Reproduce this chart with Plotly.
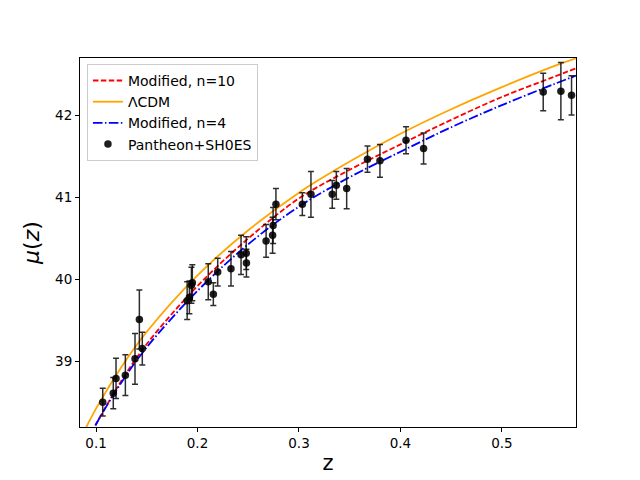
import plotly.graph_objects as go

# ---------------- Data ----------------
z_model = [0.085, 0.1, 0.125, 0.15, 0.2, 0.25, 0.3, 0.35, 0.4, 0.45, 0.5, 0.55, 0.575]
mu_lcdm = [38.06, 38.42, 38.93, 39.36, 40.05, 40.60, 41.06, 41.44, 41.78, 42.08, 42.35, 42.60, 42.71]
mu_n10 = [37.87, 38.23, 38.76, 39.21, 39.92, 40.50, 40.99, 41.34, 41.65, 41.95, 42.23, 42.47, 42.59]
mu_n4 = [37.87, 38.23, 38.74, 39.17, 39.86, 40.43, 40.89, 41.25, 41.56, 41.86, 42.13, 42.38, 42.50]

z_obs = [0.1066, 0.1170, 0.1197, 0.1289, 0.1384, 0.1427, 0.1456, 0.1898, 0.1920, 0.1940,
         0.1949, 0.2106, 0.2156, 0.2199, 0.2330, 0.2429, 0.2480, 0.2482, 0.2676, 0.2740,
         0.2745, 0.2773, 0.3033, 0.3118, 0.3328, 0.3368, 0.3470, 0.3675, 0.3798, 0.4055,
         0.4228, 0.5407, 0.5581, 0.5686]
mu_obs = [38.50, 38.61, 38.79, 38.83, 39.03, 39.51, 39.155, 39.74, 39.78, 39.93,
          39.96, 39.97, 39.82, 40.09, 40.13, 40.30, 40.32, 40.20, 40.47, 40.54,
          40.66, 40.92, 40.92, 41.04, 41.04, 41.15, 41.11, 41.47, 41.45, 41.70,
          41.60, 42.29, 42.30, 42.25]
mu_err = [0.17, 0.19, 0.245, 0.25, 0.31, 0.36, 0.2, 0.23, 0.2, 0.22,
          0.22, 0.22, 0.14, 0.17, 0.21, 0.24, 0.2, 0.17, 0.2, 0.22,
          0.22, 0.19, 0.14, 0.28, 0.17, 0.17, 0.245, 0.16, 0.2, 0.165,
          0.19, 0.23, 0.35, 0.24]

x_ticks = [0.1, 0.2, 0.3, 0.4, 0.5]
y_ticks = [39, 40, 41, 42]

fig = go.Figure()

# ---------------- Model curves ----------------
fig.add_trace(go.Scatter(x=z_model, y=mu_n10, mode="lines", name="Modified, n=10",
                         line=dict(color="red", width=1.8, dash="5.5px,2.4px", shape="spline")))
fig.add_trace(go.Scatter(x=z_model, y=mu_lcdm, mode="lines", name="ΛCDM",
                         line=dict(color="orange", width=1.8, shape="spline")))
fig.add_trace(go.Scatter(x=z_model, y=mu_n4, mode="lines", name="Modified, n=4",
                         line=dict(color="blue", width=1.8, dash="9.6px,2.4px,1.5px,2.4px",
                                   shape="spline")))

# ---------------- Observations ----------------
fig.add_trace(go.Scatter(x=z_obs, y=mu_obs, mode="markers", name="Pantheon+SH0ES",
                         marker=dict(color="rgba(0,0,0,0.88)", size=7.5),
                         error_y=dict(type="data", array=mu_err, color="rgba(0,0,0,0.82)",
                                      thickness=1.5, width=3)))

axis_style = dict(showline=True, linecolor="black", linewidth=1, mirror=True,
                  ticks="outside", ticklen=4, tickcolor="black", showgrid=False,
                  zeroline=False, automargin=False, tickfont=dict(size=13.5, color="black"))

fig.update_layout(
    width=640, height=480,
    margin=dict(l=80, r=64, t=58, b=53, autoexpand=False),
    paper_bgcolor="white", plot_bgcolor="white",
    font=dict(family="DejaVu Sans", color="black"),
    xaxis=dict(range=[0.0842, 0.573], tickvals=x_ticks, ticktext=[str(t) for t in x_ticks],
               title=dict(text="z", font=dict(size=21), standoff=5), **axis_style),
    yaxis=dict(range=[38.196, 42.706], tickvals=y_ticks,
               title=dict(text="<i>μ</i>(<i>z</i>)", font=dict(size=22), standoff=9),
               **axis_style),
    legend=dict(x=0.014, y=0.984, xanchor="left", yanchor="top",
                bordercolor="#cccccc", borderwidth=1, bgcolor="rgba(255,255,255,0.8)",
                font=dict(size=14), itemwidth=30, tracegroupgap=0),
    showlegend=True,
)

# drop the default page margin so the figure sits at the window corner
fig.write_html("out.html", config={"displayModeBar": False},
               post_script="document.body.style.margin='0';")
